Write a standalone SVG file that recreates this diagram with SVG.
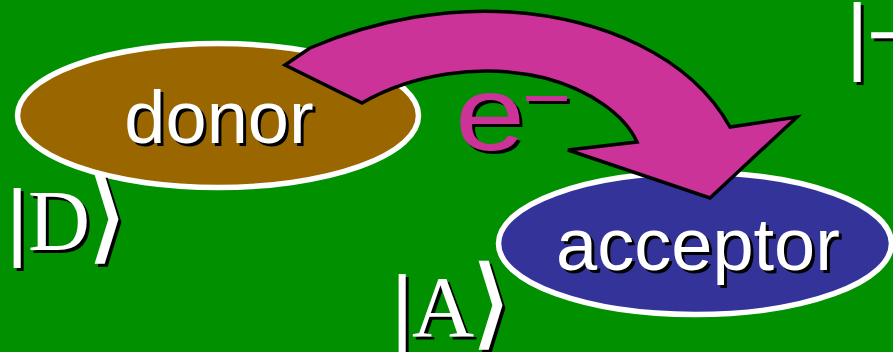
<svg xmlns="http://www.w3.org/2000/svg" width="893" height="352" viewBox="0 0 893 352">
  <style>
    .node { stroke: #ffffff; stroke-width: 5.5; }
    .lbl { font-family: "Liberation Sans", Arial, sans-serif; font-size: 74px; text-anchor: middle; }
    .ket { font-size: 86px; }
    .sans { font-family: "Liberation Sans", Arial, sans-serif; }
    .serif { font-family: "Liberation Serif", "Times New Roman", serif; }
    .brk { font-family: "DejaVu Serif", "DejaVu Sans", serif; font-size: 98px; stroke-width: 1.8; }
    .fg { fill: #ffffff; }
    .fg .brk { stroke: #ffffff; }
    .sh { fill: #000000; }
    .sh .brk { stroke: #000000; }
    .arrow { fill: #cc3399; stroke: #000000; stroke-width: 3.5; stroke-linejoin: miter; }
  </style>
  <rect x="0" y="0" width="893" height="352" fill="#009000"/>

  <g id="donor">
    <ellipse class="node" cx="218" cy="115.5" rx="200.5" ry="72" fill="#996600"/>
    <text class="lbl sh" x="222" y="146">donor</text>
    <text class="lbl fg" x="219" y="143">donor</text>
  </g>

  <g id="acceptor">
    <ellipse class="node" cx="695" cy="243.5" rx="196.5" ry="71" fill="#333399"/>
    <text class="lbl sh" x="701" y="273">acceptor</text>
    <text class="lbl fg" x="698" y="270">acceptor</text>
  </g>

  <g id="state-D">
    <text class="ket sh" x="9" y="253"><tspan class="sans">|</tspan><tspan class="serif" x="31">D</tspan><tspan class="brk" x="91">⟩</tspan></text>
    <text class="ket fg" x="6" y="250"><tspan class="sans">|</tspan><tspan class="serif" x="28">D</tspan><tspan class="brk" x="88">⟩</tspan></text>
  </g>

  <g id="state-A">
    <text class="ket sh" x="394" y="339"><tspan class="sans">|</tspan><tspan class="serif" x="415">A</tspan><tspan class="brk" x="475">⟩</tspan></text>
    <text class="ket fg" x="391" y="336"><tspan class="sans">|</tspan><tspan class="serif" x="412">A</tspan><tspan class="brk" x="472">⟩</tspan></text>
  </g>

  <g id="state-top">
    <text class="ket sans sh" x="849" y="67">|<tspan x="870">−</tspan></text>
    <text class="ket sans fg" x="846" y="64">|<tspan x="867">−</tspan></text>
  </g>

  <g id="connectors">
    <path class="arrow" d="M310,48 C380,18 450,8 510,12 C600,18 690,55 730,127 L797,117 L710,198 L568,150 L637,142 C625,115 590,90 545,78 C480,62 410,75 362,103 L285,65 Z"/>
    <g id="e-label" font-family="Liberation Sans, Arial, sans-serif">
      <text transform="translate(458,153) scale(1.2,1)" font-size="105" fill="#000000"><tspan x="0" y="0">e</tspan><tspan font-size="70" x="56" y="-28">−</tspan></text>
      <text transform="translate(455,150) scale(1.2,1)" font-size="105" fill="#cc3399"><tspan x="0" y="0">e</tspan><tspan font-size="70" x="56" y="-28">−</tspan></text>
    </g>
  </g>
</svg>
